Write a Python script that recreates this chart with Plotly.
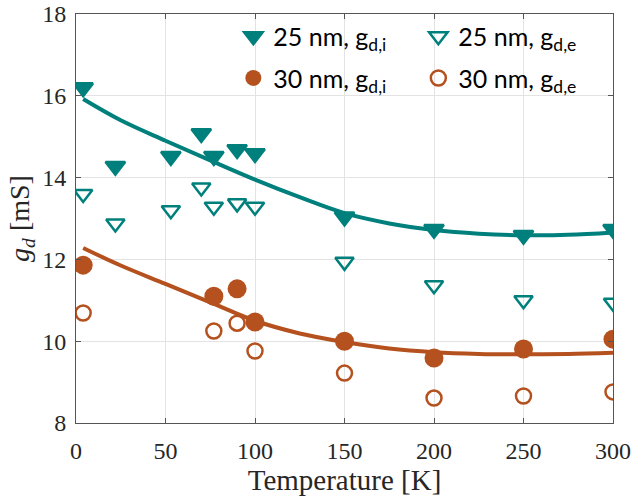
import plotly.graph_objects as go

# ---- data ----
T_25 = [4, 22, 53, 70, 77, 90, 100, 150, 200, 250, 300]
gdi_25 = [16.2, 14.28, 14.52, 15.08, 14.52, 14.69, 14.59, 13.04, 12.74, 12.59, 12.74]
gde_25 = [13.6, 12.88, 13.2, 13.76, 13.29, 13.37, 13.29, 11.94, 11.37, 11.0, 10.94]

T_30 = [4, 77, 90, 100, 150, 200, 250, 300]
gdi_30 = [11.86, 11.1, 11.28, 10.47, 10.0, 9.59, 9.81, 10.05]
gde_30 = [10.69, 10.25, 10.44, 9.76, 9.22, 8.61, 8.66, 8.76]

T_fit = [4, 25, 50, 75, 100, 125, 150, 175, 200, 225, 250, 275, 300]
fit_25 = [15.92, 15.4, 14.9, 14.42, 13.95, 13.52, 13.13, 12.88, 12.72, 12.63, 12.59, 12.6, 12.66]
fit_30 = [12.28, 11.85, 11.4, 10.95, 10.5, 10.19, 9.98, 9.82, 9.73, 9.69, 9.68, 9.69, 9.72]

x_ticks = [0, 50, 100, 150, 200, 250, 300]
y_ticks = [8, 10, 12, 14, 16, 18]

TEAL = "rgb(0,128,124)"
ORANGE = "rgb(181,81,30)"

fig = go.Figure()

fig.add_trace(go.Scatter(x=T_fit, y=fit_25, mode="lines", line=dict(color=TEAL, width=4, shape="spline"),
                         showlegend=False, hoverinfo="skip"))
fig.add_trace(go.Scatter(x=T_fit, y=fit_30, mode="lines", line=dict(color=ORANGE, width=4, shape="spline"),
                         showlegend=False, hoverinfo="skip"))

fig.add_trace(go.Scatter(x=T_25, y=gdi_25, mode="markers", name="25 nm, g<sub>d,i</sub>",
                         marker=dict(symbol="triangle-down", size=17, color=TEAL, line=dict(color=TEAL, width=2.5)),
                         legend="legend"))
fig.add_trace(go.Scatter(x=T_25, y=gde_25, mode="markers", name="25 nm, g<sub>d,e</sub>",
                         marker=dict(symbol="triangle-down-open", size=16, color=TEAL, line=dict(color=TEAL, width=2.5)),
                         legend="legend"))
fig.add_trace(go.Scatter(x=T_30, y=gdi_30, mode="markers", name="30 nm, g<sub>d,i</sub>",
                         marker=dict(symbol="circle", size=19, color=ORANGE, line=dict(width=0)),
                         legend="legend2"))
fig.add_trace(go.Scatter(x=T_30, y=gde_30, mode="markers", name="30 nm, g<sub>d,e</sub>",
                         marker=dict(symbol="circle-open", size=15, color=ORANGE, line=dict(color=ORANGE, width=2.5)),
                         legend="legend2"))

legend_common = dict(orientation="h", xanchor="left", yanchor="middle", bgcolor="rgba(0,0,0,0)",
                     font=dict(family="Lato", size=25, color="black"), entrywidth=140,
                     itemsizing="trace")

axis_common = dict(showline=True, linecolor="#555555", linewidth=1, mirror="ticks", ticks="inside",
                   ticklen=5, tickcolor="#555555", showgrid=True, gridcolor="#e3e3e3", gridwidth=1,
                   zeroline=False, automargin=False,
                   tickfont=dict(family="Liberation Serif", size=24, color="#262626"))

fig.update_layout(
    width=632, height=497,
    margin=dict(l=76, r=19, t=14, b=74),
    plot_bgcolor="white", paper_bgcolor="white",
    legend=dict(x=0.293, y=0.945, **legend_common),
    legend2=dict(x=0.293, y=0.843, **legend_common),
    xaxis=dict(range=[0, 300], tickvals=x_ticks, ticktext=[str(v) for v in x_ticks], ticklabelstandoff=6,
               title=dict(text="Temperature [K]", font=dict(family="Liberation Serif", size=29, color="#262626"), standoff=3),
               **axis_common),
    yaxis=dict(range=[8, 18], tickvals=y_ticks, ticktext=[str(v) for v in y_ticks], ticklabelstandoff=4,
               title=dict(text="<i>g</i><sub><i>d</i></sub> [mS]", font=dict(family="Liberation Serif", size=28, color="#262626"), standoff=4),
               **axis_common),
)

fig.write_html("out.html")
